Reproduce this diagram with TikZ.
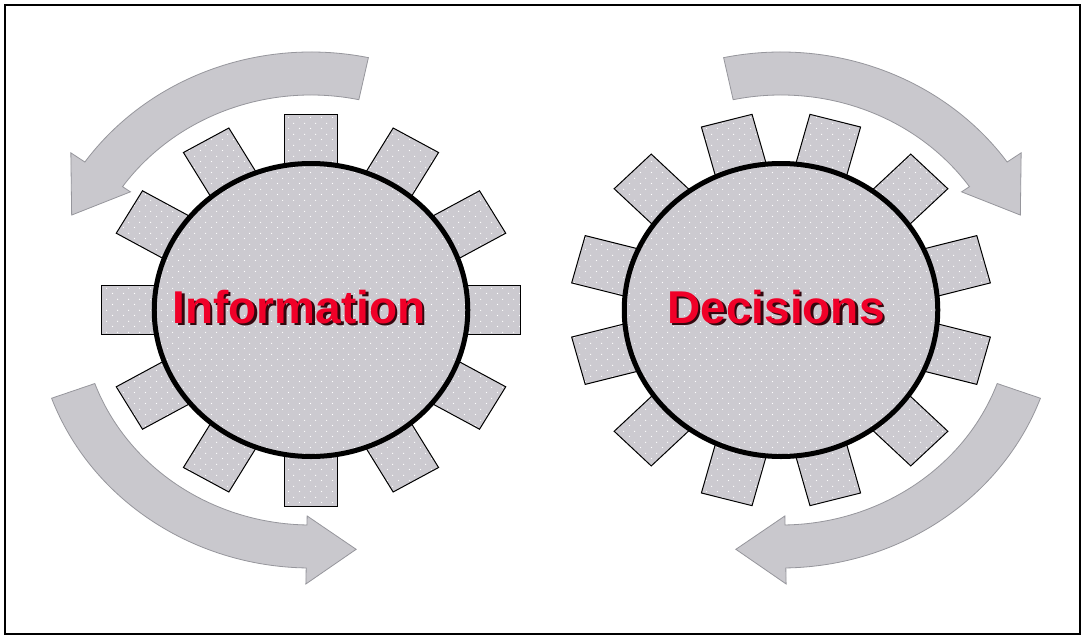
\documentclass[tikz,border=0pt]{standalone}
\usepackage{fontspec}
\setmainfont{Liberation Sans}
\usetikzlibrary{patterns.meta}
\definecolor{gearfill}{RGB}{204,202,208}
\definecolor{arrowfill}{RGB}{201,200,205}
\definecolor{arrowline}{RGB}{150,150,156}
\definecolor{txtred}{RGB}{240,0,40}
\definecolor{txtshadow}{RGB}{50,8,14}
\tikzdeclarepattern{
  name=gdots,
  type=uncolored,
  bounding box={(0pt,0pt) and (11pt,11pt)},
  tile size={(11pt,11pt)},
  code={
    \pgfpathcircle{\pgfpoint{2.75pt}{2.75pt}}{0.7pt}
    \pgfpathcircle{\pgfpoint{8.25pt}{8.25pt}}{0.7pt}
    \pgfusepath{fill}
  }
}
\newcommand{\shadowedtext}[1]{\makebox[0pt][l]{\hspace*{2.5pt}\raisebox{-2.5pt}{\textcolor{txtshadow}{#1}}}\textcolor{txtred}{#1}}
\tikzset{
  tooth/.style={preaction={fill=gearfill}, pattern=gdots, pattern color=white, draw=black, line width=1pt},
  gearbody/.style={preaction={fill=gearfill}, pattern=gdots, pattern color=white, draw=black, line width=5pt},
  flowarrow/.style={fill=arrowfill, draw=arrowline, line width=0.8pt, line join=miter},
  gearlabel/.style={anchor=base, font=\bfseries\fontsize{46}{46}\selectfont, inner sep=0pt},
}
\begin{document}
\begin{tikzpicture}[x=1pt,y=-1pt]
\useasboundingbox (0,0) rectangle (1084,637);
\fill[white] (0,0) rectangle (1084,637);
\draw[line width=2pt] (5,5) rectangle (1080,634);

% left gear (Information)
\begin{scope}[shift={(311,310)}, xscale=1.07, yscale=-1]
  \filldraw[flowarrow] (78:215) arc[start angle=78, end angle=145, radius=215]
    -- (145:206) -- (157:243) -- (145:274) -- (145:258)
    arc[start angle=145, end angle=78, radius=258] -- cycle;
  \filldraw[flowarrow] (200:215) arc[start angle=200, end angle=269, radius=215]
    -- (269:206) -- (280:243) -- (269:274) -- (269:258)
    arc[start angle=269, end angle=200, radius=258] -- cycle;
  \foreach \a in {0,30,...,330}
    \filldraw[tooth, rotate=\a] (120,-24.5) rectangle (196,24.5);
  \filldraw[gearbody] (0,0) circle[radius=146.5];
\end{scope}

% right gear (Decisions)
\begin{scope}[shift={(781,310)}, xscale=-1.07, yscale=-1]
  \filldraw[flowarrow] (78:215) arc[start angle=78, end angle=145, radius=215]
    -- (145:206) -- (157:243) -- (145:274) -- (145:258)
    arc[start angle=145, end angle=78, radius=258] -- cycle;
  \filldraw[flowarrow] (200:215) arc[start angle=200, end angle=269, radius=215]
    -- (269:206) -- (280:243) -- (269:274) -- (269:258)
    arc[start angle=269, end angle=200, radius=258] -- cycle;
  \foreach \a in {15,45,...,345}
    \filldraw[tooth, rotate=\a] (120,-24.5) rectangle (196,24.5);
  \filldraw[gearbody] (0,0) circle[radius=146.5];
\end{scope}

\node[gearlabel] (info) at (299,323) {\shadowedtext{Information}};
\node[gearlabel] (dec) at (776,323) {\shadowedtext{Decisions}};
\end{tikzpicture}
\end{document}
